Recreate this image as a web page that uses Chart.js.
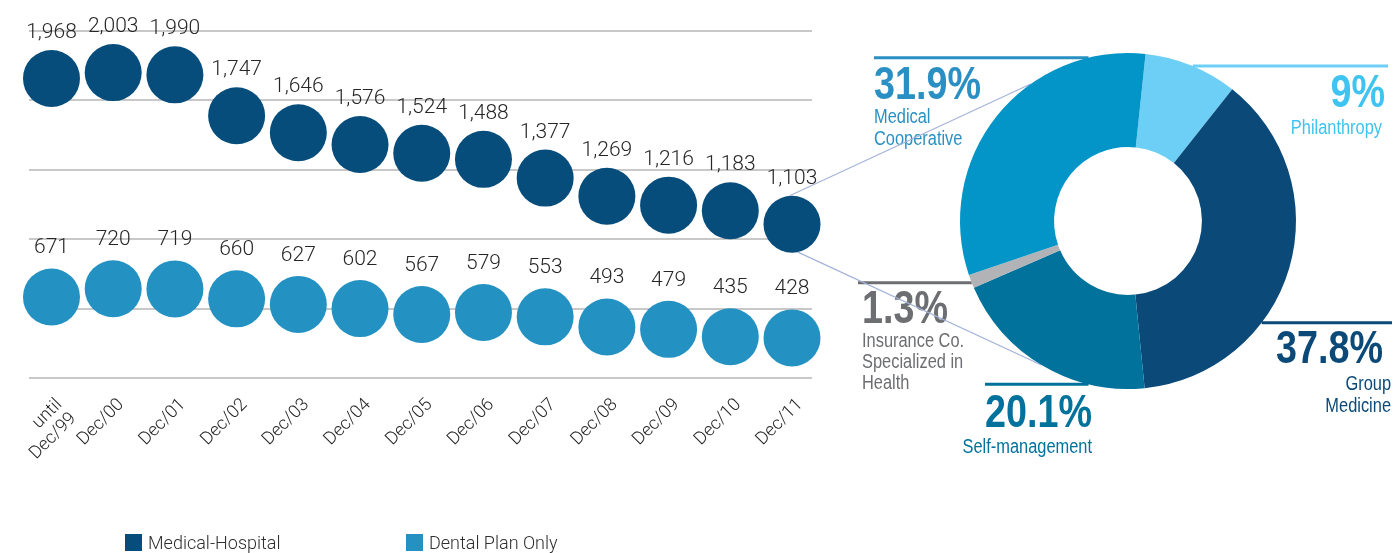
<!DOCTYPE html>
<html>
<head>
<meta charset="utf-8">
<title>Beneficiaries and operator mix</title>
<script src="https://cdn.jsdelivr.net/npm/chart.js@4.4.1/dist/chart.umd.min.js"></script>
<style>
  html, body { margin: 0; padding: 0; background: #fff; }
  #wrap { position: relative; width: 1394px; height: 553px; overflow: hidden; }
  #wrap canvas { position: absolute; left: 0; top: 0; }
  #share { pointer-events: none; }
  #legend { position: absolute; left: 0; top: 534px; width: 100%; height: 19px; }
  .item { position: absolute; top: 0; display: flex; align-items: center; white-space: nowrap;
          font-family: Roboto, "Liberation Sans", sans-serif; font-size: 18px; font-weight: 300;
          color: #2e2e2e; line-height: 17px; }
  .swatch { width: 17px; height: 17px; margin-right: 6px; flex: none; }
</style>
</head>
<body>
<div id="wrap">
  <canvas id="bubbles" width="1394" height="553"></canvas>
  <canvas id="share" width="1394" height="553"></canvas>
  <div id="legend"></div>
</div>
<script>
// Beneficiaries per period (thousands)
const periods = [['until', 'Dec/99'], 'Dec/00', 'Dec/01', 'Dec/02', 'Dec/03', 'Dec/04', 'Dec/05',
                 'Dec/06', 'Dec/07', 'Dec/08', 'Dec/09', 'Dec/10', 'Dec/11'];
const medicalHospital = [1968, 2003, 1990, 1747, 1646, 1576, 1524, 1488, 1377, 1269, 1216, 1183, 1103];
const dentalOnly = [671, 720, 719, 660, 627, 602, 567, 579, 553, 493, 479, 435, 428];
const seriesNames = ['Medical-Hospital', 'Dental Plan Only'];

// Dec/11 medical-hospital beneficiaries by operator type (%)
const segments = ['Philanthropy', ['Group', 'Medicine'], 'Self-management',
                  ['Insurance Co.', 'Specialized in', 'Health'], ['Medical', 'Cooperative']];
const segmentShare = [9, 37.8, 20.1, 1.3, 31.9];

// ---------------------------------------------------------------------------
const W = 1394, H = 553;
const plot = { left: 28, right: 812, top: 31, bottom: 378 };
const axisBand = 100;
const bubbleR = 28.5;
const lightFont = 'Roboto, "Liberation Sans", sans-serif';

const colors = {
  medical: '#064d7c',
  dental: '#2391c1',
  grid: '#c8c8c8',
  text: '#262626',
  connector: '#a3b3d9'
};

// Condensed face for the operator call-outs; fall back to a horizontally squeezed sans.
function hasFont(name) {
  const c = document.createElement('canvas').getContext('2d');
  const probe = 'mmmwwwiii 31.9% Cooperative';
  c.font = '40px monospace';
  const a = c.measureText(probe).width;
  c.font = '40px "' + name + '", monospace';
  const b = c.measureText(probe).width;
  return Math.abs(a - b) > 0.5;
}
const narrowAvailable = hasFont('Liberation Sans Narrow');
const calloutFace = narrowAvailable ? '"Liberation Sans Narrow"' : '"Liberation Sans", Arial, sans-serif';
const calloutSquash = narrowAvailable ? 1 : 0.82;

const fmt = v => String(v).replace(/\B(?=(\d{3})+(?!\d))/g, ',');

// Numbers printed above every bubble
const valueLabels = {
  id: 'valueLabels',
  afterDatasetsDraw(chart) {
    const ctx = chart.ctx;
    ctx.save();
    ctx.font = '300 21px ' + lightFont;
    ctx.fillStyle = colors.text;
    ctx.textAlign = 'center';
    ctx.textBaseline = 'alphabetic';
    chart.data.datasets.forEach((ds, di) => {
      chart.getDatasetMeta(di).data.forEach((pt, i) => {
        const r = pt.options.radius;
        ctx.fillText(fmt(ds.data[i].y), pt.x, pt.y - r - ds.labelGap);
      });
    });
    ctx.restore();
  }
};

const bubbleChart = new Chart(document.getElementById('bubbles'), {
  type: 'scatter',
  data: {
    datasets: [
      {
        label: seriesNames[0],
        data: medicalHospital.map((v, i) => ({ x: i, y: v })),
        backgroundColor: colors.medical,
        pointRadius: bubbleR, pointHoverRadius: bubbleR, pointBorderWidth: 0,
        clip: false, labelGap: 12
      },
      {
        label: seriesNames[1],
        data: dentalOnly.map((v, i) => ({ x: i, y: v })),
        backgroundColor: colors.dental,
        pointRadius: bubbleR, pointHoverRadius: bubbleR, pointBorderWidth: 0,
        clip: false, labelGap: 15
      }
    ]
  },
  options: {
    responsive: false,
    animation: false,
    events: [],
    layout: { padding: { left: plot.left, right: W - plot.right, top: plot.top, bottom: H - plot.bottom - axisBand } },
    plugins: { legend: { display: false }, tooltip: { enabled: false } },
    scales: {
      x: {
        type: 'linear',
        min: -0.3725,
        max: 12.324,
        grid: { display: false, drawTicks: false },
        border: { display: false },
        afterBuildTicks: s => { s.ticks = periods.map((_, i) => ({ value: i })); },
        afterFit: s => {
          s.height = axisBand;
          s.paddingLeft = 0;
          s.paddingRight = 0;
        },
        ticks: {
          autoSkip: false, minRotation: 45, maxRotation: 45, padding: 17, labelOffset: 8,
          color: colors.text,
          font: { family: lightFont, size: 18, weight: 300, lineHeight: 1.1 },
          callback: v => periods[v]
        }
      },
      y: {
        min: 190,
        max: 2250,
        ticks: { display: false, stepSize: 412 },
        grid: { color: colors.grid, lineWidth: 2, drawTicks: false },
        border: { display: false },
        afterFit: s => { s.width = 0; }
      }
    }
  },
  plugins: [valueLabels]
});

// Legend under the bubble panel
(function buildLegend() {
  const legend = document.getElementById('legend');
  const lefts = [125, 406];
  bubbleChart.data.datasets.forEach((ds, i) => {
    const item = document.createElement('div');
    item.className = 'item';
    item.style.left = lefts[i] + 'px';
    const sw = document.createElement('span');
    sw.className = 'swatch';
    sw.style.background = ds.backgroundColor;
    const tx = document.createElement('span');
    tx.textContent = ds.label;
    item.appendChild(sw);
    item.appendChild(tx);
    legend.appendChild(item);
  });
})();

// ---------------------------------------------------------------------------
// Operator mix ring
const ring = { cx: 1128, cy: 221, r: 168 };
const segmentColors = ['#6dcff6', '#0b4a78', '#00729b', '#b1b3b6', '#0395c7'];

// Call-out layout, offsets relative to the ring centre
const callouts = [
  { rule: '#6dcff6', ink: '#3fc3f0', dy: -155, edge: 1, end: 260, align: 'right', px: 257, py: -114.3, sx: 254, sy: -87, lh: 21.7 },
  { rule: '#0b4a78', ink: '#0b4a78', dy: 101.7, edge: 1, end: 264, align: 'right', px: 255, py: 142.3, sx: 263, sy: 169, lh: 21.7 },
  { rule: '#00729b', ink: '#00729b', dy: 163.3, edge: -1, end: -143, align: 'right', px: -36, py: 205.7, sx: -36, sy: 232.3, lh: 21.7 },
  { rule: '#6d6e71', ink: '#6d6e71', dy: 61.7, edge: -1, end: -270, align: 'left', px: -266, py: 102.3, sx: -266, sy: 126.3, lh: 21 },
  { rule: '#2a90c4', ink: '#2a90c4', dy: -163.3, edge: -1, end: -254, align: 'left', px: -254, py: -121.7, sx: -254, sy: -97.7, lh: 21.7 }
];

// Lines joining the Dec/11 bubble to the ring (angles in degrees, canvas orientation)
const zoomLines = [
  { from: -94.8, to: 234.6 },
  { from: 78, to: 121 }
];

function squashedText(ctx, text, x, y, align) {
  ctx.save();
  ctx.translate(x, y);
  ctx.scale(calloutSquash, 1);
  ctx.textAlign = align;
  ctx.fillText(text, 0, 0);
  ctx.restore();
}

const ringCallouts = {
  id: 'ringCallouts',
  beforeDatasetsDraw(chart) {
    const ctx = chart.ctx;
    const arc = chart.getDatasetMeta(0).data[0];
    const cx = arc.x, cy = arc.y, R = arc.outerRadius;
    const labels = chart.data.labels;
    const values = chart.data.datasets[0].data;
    ctx.save();
    ctx.textBaseline = 'alphabetic';
    callouts.forEach((c, i) => {
      const y = cy + c.dy;
      const half = Math.sqrt(Math.max(R * R - c.dy * c.dy, 0));
      const xEdge = cx + c.edge * half;
      ctx.strokeStyle = c.rule;
      ctx.lineWidth = 3;
      ctx.beginPath();
      ctx.moveTo(cx + c.end, y);
      ctx.lineTo(xEdge, y);
      ctx.stroke();

      ctx.fillStyle = c.ink;
      ctx.font = 'bold 46px ' + calloutFace;
      squashedText(ctx, values[i] + '%', cx + c.px, cy + c.py, c.align);
      ctx.font = '20px ' + calloutFace;
      const lines = Array.isArray(labels[i]) ? labels[i] : [labels[i]];
      lines.forEach((ln, k) => squashedText(ctx, ln, cx + c.sx, cy + c.sy + k * c.lh, c.align));
    });

    // zoom lines from the last medical-hospital bubble
    const src = Chart.getChart('bubbles');
    if (src) {
      const meta = src.getDatasetMeta(0);
      const pt = meta.data[meta.data.length - 1];
      const r = pt.options.radius;
      ctx.strokeStyle = colors.connector;
      ctx.lineWidth = 1.2;
      zoomLines.forEach(z => {
        const a = z.from * Math.PI / 180, b = z.to * Math.PI / 180;
        ctx.beginPath();
        ctx.moveTo(pt.x + r * Math.cos(a), pt.y + r * Math.sin(a));
        ctx.lineTo(cx + R * Math.cos(b), cy + R * Math.sin(b));
        ctx.stroke();
      });
    }
    ctx.restore();
  }
};

new Chart(document.getElementById('share'), {
  type: 'doughnut',
  data: {
    labels: segments,
    datasets: [{
      data: segmentShare,
      backgroundColor: segmentColors,
      borderWidth: 0,
      hoverOffset: 0
    }]
  },
  options: {
    responsive: false,
    animation: false,
    events: [],
    cutout: '44%',
    rotation: 6,
    layout: {
      padding: {
        left: ring.cx - ring.r, top: ring.cy - ring.r,
        right: W - ring.cx - ring.r, bottom: H - ring.cy - ring.r
      }
    },
    plugins: { legend: { display: false }, tooltip: { enabled: false } }
  },
  plugins: [ringCallouts]
});
</script>
</body>
</html>
